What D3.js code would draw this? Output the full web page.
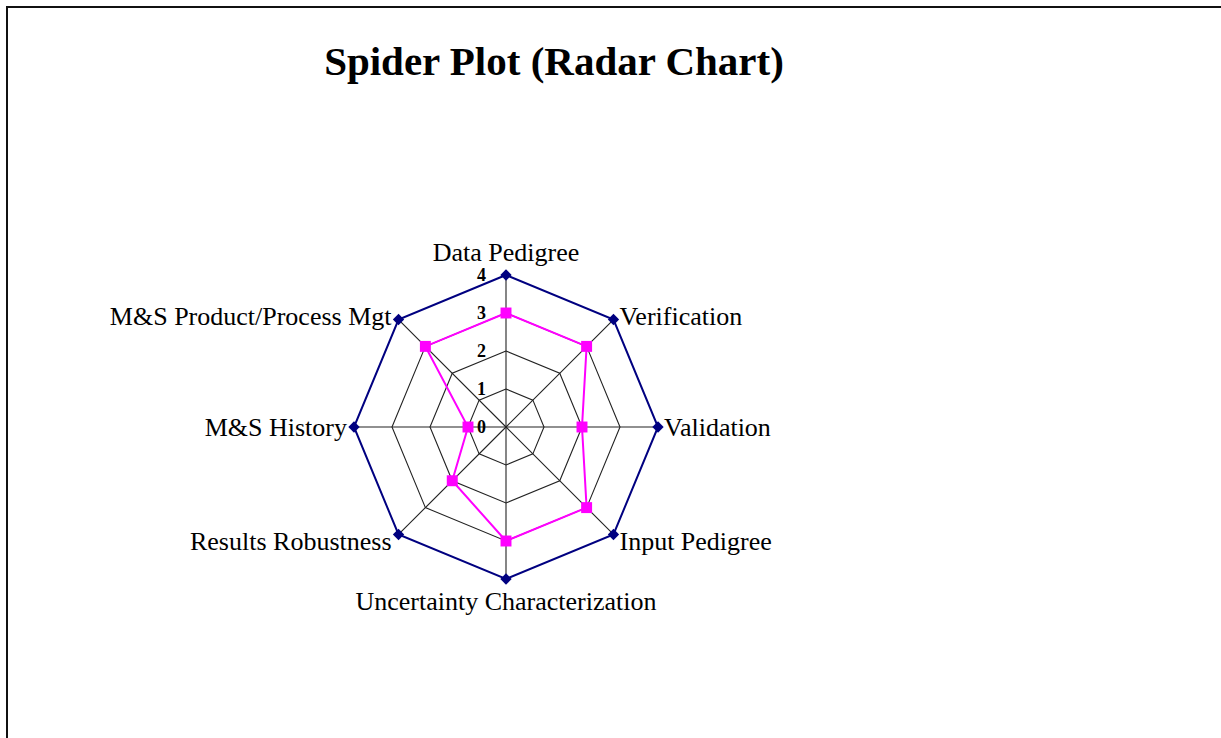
<!DOCTYPE html>
<html><head><meta charset="utf-8">
<script src="https://cdn.jsdelivr.net/npm/d3@7"></script>
<style>body{margin:0;background:#fff}svg{display:block}</style>
</head><body>
<svg id="c" width="1221" height="738"></svg>
<script>
const categories = ["Data Pedigree","Verification","Validation","Input Pedigree","Uncertainty Characterization","Results Robustness","M&S History","M&S Product/Process Mgt"];
const maxSeries = [4,4,4,4,4,4,4,4];
const scoreSeries = [3,3,2,3,3,2,1,3];
const tickValues = [0,1,2,3,4];
const title = "Spider Plot (Radar Chart)";

const svg = d3.select("#c");
const W = 1221, H = 738;
svg.append("rect").attr("x",7).attr("y",7).attr("width",W).attr("height",H)
  .attr("fill","#fff").attr("stroke","#111").attr("stroke-width",2);

svg.append("text").attr("x",554).attr("y",75).attr("text-anchor","middle")
  .attr("font-family","Liberation Serif, Times New Roman, serif").attr("font-weight","bold")
  .attr("font-size",41).attr("fill","#000").text(title);

const cx = 506, cy = 427;
const r = d3.scaleLinear().domain([0,4]).range([0,152]);
const n = categories.length;
const ang = d3.scalePoint().domain(d3.range(n+1)).range([0, 2*Math.PI]);
const angle = i => ang(i % n);
const pt = (i,v) => [cx + r(v)*Math.sin(angle(i)), cy - r(v)*Math.cos(angle(i))];

const g = svg.append("g");
tickValues.filter(t=>t>0 && t<4).forEach(t=>{
  g.append("path").attr("d", d3.line()(d3.range(n+1).map(i=>pt(i,t))))
    .attr("fill","none").attr("stroke","#222").attr("stroke-width",1.1);
});
d3.range(n).forEach(i=>{
  const p = pt(i,4);
  g.append("line").attr("x1",cx).attr("y1",cy).attr("x2",p[0]).attr("y2",p[1])
    .attr("stroke","#222").attr("stroke-width",1.1);
});

function drawSeries(vals, color, rot, size){
  const pts = vals.map((v,i)=>pt(i,v));
  g.append("path").attr("d", d3.line()(pts.concat([pts[0]])))
    .attr("fill","none").attr("stroke",color).attr("stroke-width",2);
  g.selectAll(null).data(pts).enter().append("path")
    .attr("transform",d=>`translate(${d[0]},${d[1]}) rotate(${rot})`)
    .attr("d", d3.symbol().type(d3.symbolSquare).size(size))
    .attr("fill",color);
}
drawSeries(maxSeries, "#000080", 45, 64);
drawSeries(scoreSeries, "#FF00FF", 0, 120);

tickValues.forEach(t=>{
  g.append("text").attr("x",cx-20).attr("y",cy - r(t)).attr("dy","0.35em")
    .attr("text-anchor","end").attr("font-family","Liberation Serif, serif")
    .attr("font-weight","bold").attr("font-size",18).text(t);
});

const lblFont = 26;
categories.forEach((c,i)=>{
  const p = pt(i,4);
  const s = Math.sin(angle(i)), co = Math.cos(angle(i));
  let x = p[0], y = p[1], anchor = "middle", dy = "0.35em";
  if (Math.abs(s) < 0.01) {
    if (co > 0) { y = p[1] - 14; dy = "0"; } else { y = p[1] + 10; dy = "0.8em"; }
  } else if (s > 0) { x = p[0] + 6; anchor = "start"; }
  else { x = p[0] - 7; anchor = "end"; }
  if (Math.abs(s) > 0.01 && Math.abs(co) > 0.01) y = p[1] + (co>0 ? -4 : 6);
  g.append("text").attr("x",x).attr("y",y).attr("dy",dy).attr("text-anchor",anchor)
    .attr("font-family","Liberation Serif, Times New Roman, serif").attr("font-size",lblFont)
    .attr("fill","#000").text(c);
});
</script>
</body></html>
